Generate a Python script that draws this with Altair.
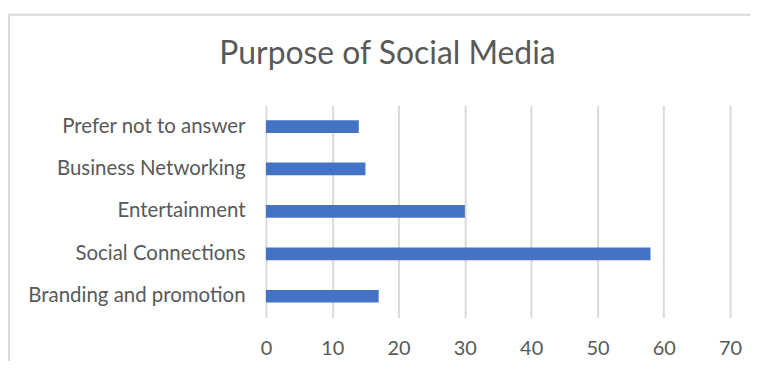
import altair as alt
import pandas as pd

categories = ["Branding and promotion", "Social Connections", "Entertainment",
              "Business Networking", "Prefer not to answer"]
values = [17, 58, 30, 15, 14]
order_top_to_bottom = list(reversed(categories))
x_ticks = [0, 10, 20, 30, 40, 50, 60, 70]

df = pd.DataFrame({"category": categories, "value": values})

FONT = "Lato"
GREY = "#595959"

frame = alt.Chart(pd.DataFrame({"a": [0]})).mark_rect(
    fill="transparent", stroke="#d9d9d9", strokeWidth=2
).encode(
    x=alt.value(-258), x2=alt.value(501), y=alt.value(-91), y2=alt.value(320)
)

bars = alt.Chart(df).mark_bar(color="#4472C4").encode(
    x=alt.X("value:Q",
            scale=alt.Scale(domain=[0, 70], nice=False),
            axis=alt.Axis(values=x_ticks, title=None, grid=True, gridColor="#d9d9d9",
                          gridWidth=2, domain=False, ticks=False, labelPadding=21,
                          labelFlush=False,
                          labelFont=FONT, labelFontSize=20, labelColor=GREY)),
    y=alt.Y("category:N", sort=order_top_to_bottom,
            scale=alt.Scale(paddingInner=0.7, paddingOuter=0.35),
            axis=alt.Axis(title=None, domain=False, ticks=False, labelPadding=21,
                          labelFont=FONT, labelFontSize=20.5, labelColor=GREY,
                          labelLimit=400)),
)

chart = alt.layer(frame, bars).properties(
    width=466, height=213,
    autosize=alt.AutoSizeParams(type="none"),
    padding={"left": 259, "top": 97, "right": 20, "bottom": 43},
    title=alt.TitleParams("Purpose of Social Media", font=FONT, fontSize=32,
                          fontWeight="normal", color=GREY, anchor="middle",
                          dx=-111, dy=58, offset=0),
).configure_view(stroke=None)

chart.save("out.html", embed_options={"renderer": "svg", "actions": False})
